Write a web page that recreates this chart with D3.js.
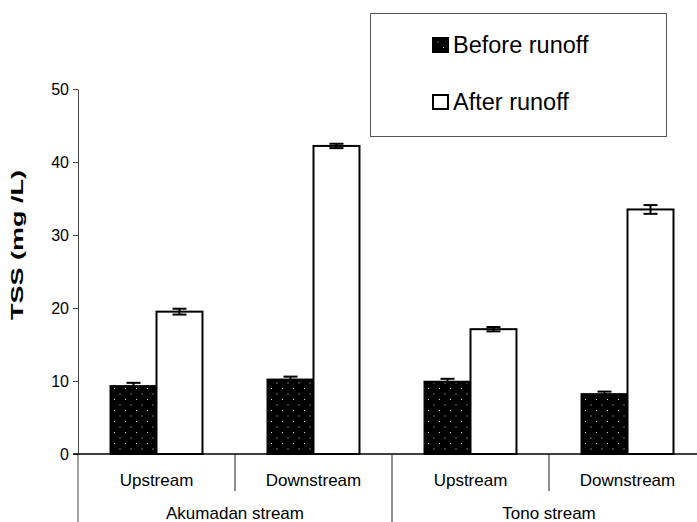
<!DOCTYPE html>
<html><head><meta charset="utf-8">
<script src="https://cdn.jsdelivr.net/npm/d3@7/dist/d3.min.js"></script>
<style>body{margin:0;background:#fff}svg{display:block;font-family:"Liberation Sans",Arial,sans-serif}</style>
</head><body><svg id="c" width="697" height="522"></svg>
<script>
const streams = ["Akumadan stream", "Tono stream"];
const sites = ["Upstream", "Downstream"];
const categories = ["Akumadan stream|Upstream", "Akumadan stream|Downstream", "Tono stream|Upstream", "Tono stream|Downstream"];
const seriesNames = ["Before runoff", "After runoff"];
const beforeValues = [9.3, 10.2, 9.9, 8.2];
const beforeErrors = [0.45, 0.4, 0.4, 0.35];
const afterValues = [19.5, 42.2, 17.1, 33.5];
const afterErrors = [0.4, 0.3, 0.3, 0.6];
const yTicks = [0, 10, 20, 30, 40, 50];

const svg = d3.select("#c");
const mLeft = 78, mRight = 706, mTop = 89, mBottom = 454;

const defs = svg.append("defs");
const pat = defs.append("pattern").attr("id", "dots").attr("patternUnits", "userSpaceOnUse")
  .attr("width", 11).attr("height", 11);
pat.append("rect").attr("width", 11).attr("height", 11).attr("fill", "#000");
pat.append("rect").attr("x", 3).attr("y", 3).attr("width", 1).attr("height", 1).attr("fill", "#ddd");
pat.append("rect").attr("x", 8.5).attr("y", 8.5).attr("width", 1).attr("height", 1).attr("fill", "#ddd");

const y = d3.scaleLinear().domain([0, 50]).range([mBottom, mTop]);
const x0 = d3.scaleBand().domain(categories).range([mLeft, mRight]).paddingInner(0).paddingOuter(0);
const x1 = d3.scaleBand().domain(seriesNames).range([0, x0.bandwidth()]).paddingInner(0).paddingOuter(0.707);

// y axis
const yAxis = d3.axisLeft(y).tickValues(yTicks).tickSize(5).tickSizeOuter(0).tickPadding(4);
const gy = svg.append("g").attr("transform", `translate(${mLeft},0)`).call(yAxis);
gy.select(".domain").attr("stroke", "#444");
gy.selectAll(".tick line").attr("stroke", "#444");
gy.selectAll(".tick text").attr("font-size", 16).attr("fill", "#000").attr("font-family", "Liberation Sans, Arial, sans-serif");
// y axis extension below
svg.append("line").attr("x1", mLeft).attr("x2", mLeft).attr("y1", mBottom).attr("y2", 522).attr("stroke", "#444");

// y title
svg.append("text").attr("transform", `translate(23,${(170+320)/2}) rotate(-90)`)
  .attr("text-anchor", "middle").attr("font-weight", "bold").attr("font-size", 16)
  .attr("textLength", 150).attr("lengthAdjust", "spacingAndGlyphs")
  .text("TSS (mg /L)");

// bars
const data = categories.map((c, i) => ({
  cat: c,
  vals: [
    { s: seriesNames[0], v: beforeValues[i], e: beforeErrors[i] },
    { s: seriesNames[1], v: afterValues[i], e: afterErrors[i] }
  ]
}));
const groups = svg.append("g").selectAll("g").data(data).join("g")
  .attr("transform", d => `translate(${x0(d.cat)},0)`);
groups.selectAll("rect").data(d => d.vals).join("rect")
  .attr("x", d => x1(d.s)).attr("width", x1.bandwidth())
  .attr("y", d => y(d.v)).attr("height", d => y(0) - y(d.v))
  .attr("fill", d => d.s === seriesNames[0] ? "url(#dots)" : "#fff")
  .attr("stroke", "#000").attr("stroke-width", 2);
// error bars
const eb = groups.selectAll("g.err").data(d => d.vals).join("g").attr("class", "err");
eb.append("line").attr("x1", d => x1(d.s) + x1.bandwidth() / 2).attr("x2", d => x1(d.s) + x1.bandwidth() / 2)
  .attr("y1", d => y(d.v + d.e)).attr("y2", d => y(d.v - d.e)).attr("stroke", "#000").attr("stroke-width", 2);
eb.append("line").attr("x1", d => x1(d.s) + x1.bandwidth() / 2 - 7).attr("x2", d => x1(d.s) + x1.bandwidth() / 2 + 7)
  .attr("y1", d => y(d.v + d.e)).attr("y2", d => y(d.v + d.e)).attr("stroke", "#000").attr("stroke-width", 2);
eb.filter(d => d.s === seriesNames[1]).append("line")
  .attr("x1", d => x1(d.s) + x1.bandwidth() / 2 - 7).attr("x2", d => x1(d.s) + x1.bandwidth() / 2 + 7)
  .attr("y1", d => y(d.v - d.e)).attr("y2", d => y(d.v - d.e)).attr("stroke", "#000").attr("stroke-width", 2);

// x axis
svg.append("line").attr("x1", mLeft - 5).attr("x2", 697).attr("y1", mBottom).attr("y2", mBottom).attr("stroke", "#000").attr("stroke-width", 1.5);
// separators
categories.forEach((c, i) => {
  if (i === 0) return;
  const xs = x0(c);
  const long = c.split("|")[0] !== categories[i - 1].split("|")[0];
  svg.append("line").attr("x1", xs).attr("x2", xs).attr("y1", mBottom).attr("y2", long ? 522 : 491)
    .attr("stroke", "#222").attr("stroke-width", 1);
});
// site labels
svg.append("g").selectAll("text").data(categories).join("text")
  .attr("x", c => x0(c) + x0.bandwidth() / 2).attr("y", 486)
  .attr("text-anchor", "middle").attr("font-size", 17).text(c => c.split("|")[1]);
// stream labels
svg.append("g").selectAll("text").data(streams).join("text")
  .attr("x", s => {
    const cs = categories.filter(c => c.startsWith(s + "|"));
    return (x0(cs[0]) + x0(cs[cs.length - 1]) + x0.bandwidth()) / 2;
  })
  .attr("y", 519).attr("text-anchor", "middle").attr("font-size", 17).text(s => s);

// legend
const lg = svg.append("g");
lg.append("rect").attr("x", 370.5).attr("y", 13.5).attr("width", 296).attr("height", 123)
  .attr("fill", "#fff").attr("stroke", "#555").attr("stroke-width", 1);
const legY = [38, 95];
seriesNames.forEach((s, i) => {
  lg.append("rect").attr("x", 433).attr("y", legY[i]).attr("width", 15).attr("height", 14)
    .attr("fill", i === 0 ? "url(#dots)" : "#fff").attr("stroke", "#000").attr("stroke-width", 2);
  lg.append("text").attr("x", 453).attr("y", legY[i] + 15).attr("font-size", 23.5).text(s);
});
</script></body></html>
